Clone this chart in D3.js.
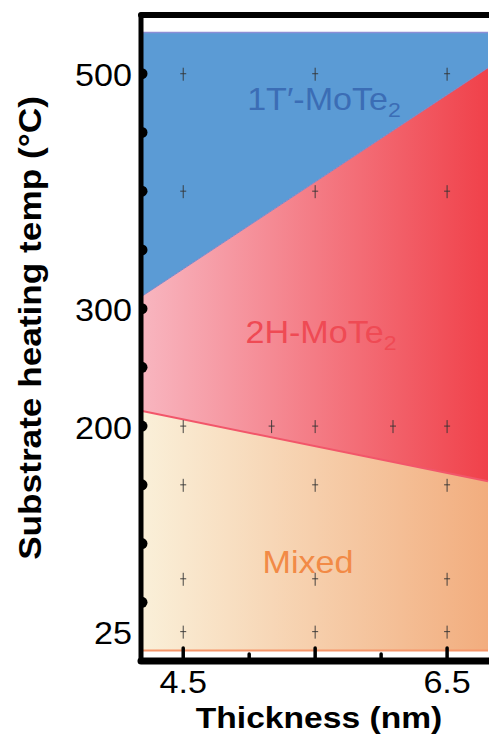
<!DOCTYPE html>
<html><head><meta charset="utf-8">
<script src="https://cdn.jsdelivr.net/npm/d3@7"></script>
<style>html,body{margin:0;padding:0;background:#fff;}</style>
</head><body>
<svg id="c" width="489" height="737"></svg>
<script>
// Data
const xDomain = [4.18, 6.81];
const yDomain = [0, 550];
const xTickMajor = [4.5, 5.5, 6.5];
const xTickMinor = [5.0, 6.0];
const xTickLabels = ["4.5", "6.5"];
const xTickLabelVals = [4.5, 6.5];
const yTickLabels = ["25", "200", "300", "500"];
const yTickVals = [25, 200, 300, 500];
const yDots = [50, 100, 150, 200, 250, 300, 350, 400, 450, 500];
const topT = 535;
const bottomT = 9;
const boundary1 = [[4.18, 310], [6.81, 505]]; // 1T'/2H
const boundary2 = [[4.18, 213], [6.81, 153]]; // 2H/Mixed
const crossX = [4.5,4.5,4.5,4.5,4.5,4.5, 5.5,5.5,5.5,5.5,5.5,5.5, 6.5,6.5,6.5,6.5,6.5,6.5, 5.17, 6.09];
const crossT = [500,400,200,150,70,25, 500,400,200,150,70,25, 500,400,200,150,70,25, 200, 200];

const svg = d3.select("#c");
const x = d3.scaleLinear().domain(xDomain).range([141, 488]);
const y = d3.scaleLinear().domain(yDomain).range([661, 15]);

const defs = svg.append("defs");
const gr = defs.append("linearGradient").attr("id","gRed").attr("x1","0").attr("x2","1").attr("y1","0").attr("y2","0");
gr.append("stop").attr("offset","0").attr("stop-color","#f8b6c0");
gr.append("stop").attr("offset","1").attr("stop-color","#f0414a");
const go = defs.append("linearGradient").attr("id","gOr").attr("x1","0").attr("x2","1").attr("y1","0").attr("y2","0");
go.append("stop").attr("offset","0").attr("stop-color","#faf0d9");
go.append("stop").attr("offset","1").attr("stop-color","#f2ad7e");

const x0 = xDomain[0], x1 = xDomain[1];
const line = d3.line().x(d=>x(d[0])).y(d=>y(d[1]));
svg.append("path").attr("d", line([[x0, topT],[x1, topT], boundary1[1], boundary1[0]]) + "Z").attr("fill","#5b9bd5");
svg.append("path").attr("d", line([boundary1[0], boundary1[1], boundary2[1], boundary2[0]]) + "Z").attr("fill","url(#gRed)");
svg.append("path").attr("d", line([boundary2[0], boundary2[1], [x1, bottomT], [x0, bottomT]]) + "Z").attr("fill","url(#gOr)");
svg.append("path").attr("d", line([[x0, topT],[x1, topT]])).attr("stroke","#8c8fd6").attr("stroke-width",1.5).attr("fill","none");
svg.append("path").attr("d", line(boundary1)).attr("stroke","#7d86c8").attr("stroke-width",1).attr("fill","none");
svg.append("path").attr("d", line(boundary2)).attr("stroke","#f2566a").attr("stroke-width",2).attr("fill","none");
svg.append("path").attr("d", line([[x0, bottomT],[x1, bottomT]])).attr("stroke","#f5966a").attr("stroke-width",2).attr("fill","none");

// crosses
const cg = svg.append("g").attr("stroke","#333").attr("stroke-width",0.9);
crossX.forEach((cx,i)=>{
  const px = x(cx), py = y(crossT[i]);
  cg.append("line").attr("x1",px).attr("x2",px).attr("y1",py-6).attr("y2",py+7);
  cg.append("line").attr("x1",px-3).attr("x2",px+3).attr("y1",py).attr("y2",py);
});

const ff = "'Liberation Sans', Arial, sans-serif";
const SX = 1.1;
function txt(tx, ty, rot, sx, anchor, size, weight, col){
  return svg.append("text").attr("transform",`translate(${tx},${ty}) rotate(${rot}) scale(${sx},1)`)
    .attr("text-anchor",anchor).attr("font-family",ff).attr("font-size",size)
    .attr("font-weight",weight).attr("fill",col);
}
function phase(label, sub, cx, by, col){
  const t = txt(cx, by, 0, SX, "middle", 31, "normal", col);
  t.append("tspan").text(label);
  if(sub) t.append("tspan").attr("font-size",21).attr("dy",7).text(sub);
}
phase("1T\u2032-MoTe","2",324,110,"#3b6db5");
phase("2H-MoTe","2",321,343,"#ef4a54");
phase("Mixed",null,308,573,"#f28a46");

// axes frame
const ax = svg.append("g").attr("stroke","#000").attr("stroke-linecap","round").attr("fill","none");
ax.append("line").attr("x1",141).attr("x2",141).attr("y1",y(550)).attr("y2",y(0)).attr("stroke-width",5);
ax.append("line").attr("x1",141).attr("x2",489).attr("y1",y(550)).attr("y2",y(550)).attr("stroke-width",6);
ax.append("line").attr("x1",141).attr("x2",489).attr("y1",y(0)).attr("y2",y(0)).attr("stroke-width",7);
xTickMajor.forEach(v=>ax.append("line").attr("x1",x(v)).attr("x2",x(v)).attr("y1",y(0)).attr("y2",y(0)-13).attr("stroke-width",3.5));
xTickMinor.forEach(v=>ax.append("line").attr("x1",x(v)).attr("x2",x(v)).attr("y1",y(0)).attr("y2",y(0)-7).attr("stroke-width",3.5));
// left dots (half discs on inner side)
const arc = d3.arc().innerRadius(0).outerRadius(5.5).startAngle(0).endAngle(Math.PI);
yDots.forEach(v=>svg.append("path").attr("d",arc()).attr("transform",`translate(142,${y(v)})`).attr("fill","#000"));

// tick labels
yTickVals.forEach((v,i)=>txt(132, y(v)+12.5, 0, SX, "end", 31, "normal", "#000").text(yTickLabels[i]));
xTickLabelVals.forEach((v,i)=>txt(x(v), 693, 0, SX, "middle", 31, "normal", "#000").text(xTickLabels[i]));

// titles
txt(319, 728, 0, 1.12, "middle", 30, "bold", "#000").text("Thickness (nm)");
txt(41, 328, -90, 1.1, "middle", 32, "bold", "#000").text("Substrate heating temp (\u00b0C)");
</script>
</body></html>
